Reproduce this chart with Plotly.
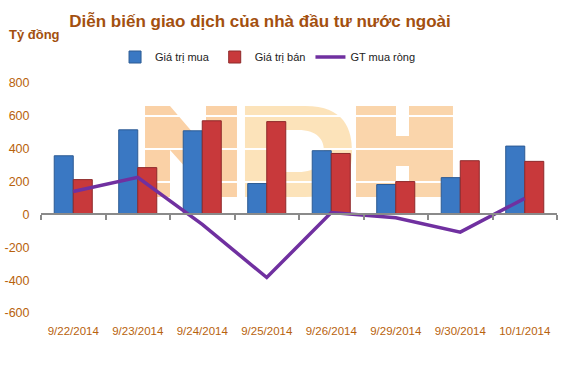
import plotly.graph_objects as go

categories = ["9/22/2014", "9/23/2014", "9/24/2014", "9/25/2014",
              "9/26/2014", "9/29/2014", "9/30/2014", "10/1/2014"]
gia_tri_mua = [357, 515, 509, 188, 388, 182, 224, 416]
gia_tri_ban = [212, 285, 570, 565, 371, 200, 327, 323]
gt_mua_rong = [140, 226, -61, -384, 12, -20, -108, 98]
y_tick_vals = [-600, -400, -200, 0, 200, 400, 600, 800]
y_tick_text = ["-600", "-400", "-200", "0", "200", "400", "600", "800"]

TITLE_COLOR = "#A3500F"
TICK_COLOR = "#B8620C"

W, H = 571, 370
# plot area in page pixels (reference)
L, R, T, B = 41, 557, 83, 313


def pp(x, y):
    return f"{(x - L) / (R - L):.4f},{(B - y) / (B - T):.4f}"


def path(cmds):
    out = []
    for c in cmds:
        if c == "Z":
            out.append("Z")
        else:
            op = c[0]
            pts = c[1:]
            out.append(op + " ".join(pp(*p) for p in pts))
    return " ".join(out)


n_path = path([("M", (145, 197)), ("L", (145, 106)), ("L", (170, 106)),
               ("L", (206, 148)), ("L", (206, 106)), ("L", (237, 106)),
               ("L", (237, 197)), ("L", (212, 197)), ("L", (170, 150)),
               ("L", (170, 197)), "Z"])
d_path = path([("M", (245, 106)), ("L", (305, 106)),
               ("C", (345, 106), (352, 130), (352, 151)),
               ("C", (352, 175), (345, 197), (305, 197)),
               ("L", (245, 197)), "Z",
               ("M", (272, 172)), ("L", (298, 172)),
               ("C", (318, 172), (324, 162), (324, 151)),
               ("C", (324, 140), (318, 130), (298, 130)),
               ("L", (272, 130)), "Z"])
h_path = path([("M", (356, 106)), ("L", (396, 106)), ("L", (396, 136)),
               ("L", (409, 136)), ("L", (409, 106)), ("L", (453, 106)),
               ("L", (453, 197)), ("L", (409, 197)), ("L", (409, 166)),
               ("L", (396, 166)), ("L", (396, 197)), ("L", (356, 197)), "Z"])

fig = go.Figure()
fig.add_trace(go.Bar(
    x=categories, y=gia_tri_mua, name="Giá trị mua",
    marker=dict(color="#3A78C3", line=dict(color="#2C5A93", width=1)),
))
fig.add_trace(go.Bar(
    x=categories, y=gia_tri_ban, name="Giá trị bán",
    marker=dict(color="#C8393B", line=dict(color="#8E2A2B", width=1)),
))
fig.add_trace(go.Scatter(
    x=categories, y=gt_mua_rong, name="GT mua ròng", mode="lines",
    line=dict(color="#7030A0", width=3.5), xaxis="x2", yaxis="y",
))

shapes = []
for p, col in [(n_path, "#F9CC9C"), (d_path, "#FCE0B2"), (h_path, "#F9D0A2")]:
    shapes.append(dict(type="path", path=p, xref="paper", yref="paper",
                       fillcolor=col, line=dict(width=0), layer="below",
                       opacity=0.9))

fig.update_layout(
    width=W, height=H,
    margin=dict(l=L, r=W - R, t=T, b=H - B, autoexpand=False),
    paper_bgcolor="white", plot_bgcolor="rgba(0,0,0,0)",
    barmode="group", bargap=0.41, bargroupgap=0,
    font=dict(family="Liberation Sans, Arial, sans-serif"),
    title=dict(text="<b>Diễn biến giao dịch của nhà đầu tư nước ngoài</b>",
               x=260 / W, xanchor="center",
               y=1 - 21 / H, yanchor="middle",
               yref="container",
               font=dict(size=17, color=TITLE_COLOR,
                         family="Liberation Sans, Arial, sans-serif")),
    legend=dict(orientation="h", x=0.44, xanchor="center",
                y=1 + (83 - 57) / (B - T),
                yanchor="middle", font=dict(size=11, color="#222222"),
                bgcolor="rgba(0,0,0,0)", traceorder="normal"),
    xaxis=dict(type="category", categoryorder="array", categoryarray=categories,
               range=[-0.5, 7.5], showgrid=False, showline=False,
               zeroline=False, ticks="outside", ticklen=7, tickcolor="rgba(0,0,0,0)",
               tickfont=dict(size=11.5, color=TICK_COLOR), automargin=False),
    xaxis2=dict(type="category", categoryorder="array", categoryarray=categories,
                range=[-0.5, 7.5], overlaying="x", anchor="free",
                position=600 / 1400, side="bottom", showgrid=False,
                showline=True, linecolor="#8A8A8A", linewidth=1.5,
                ticks="outside", ticklen=5, tickcolor="#8A8A8A", tickwidth=1.5,
                tickson="boundaries", showticklabels=False, zeroline=False,
                automargin=False),
    yaxis=dict(range=[-600, 800], tickvals=y_tick_vals, ticktext=y_tick_text,
               showgrid=True, gridcolor="white", gridwidth=1.5,
               zeroline=False, showline=False, ticks="outside", ticklen=8,
               tickcolor="rgba(0,0,0,0)", automargin=False,
               tickfont=dict(size=12.5, color=TICK_COLOR)),
    shapes=shapes,
    annotations=[dict(text="<b>Tỷ đồng</b>", xref="paper", yref="paper",
                      x=(7 - L) / (R - L), xanchor="left",
                      y=1 + (83 - 34) / (B - T), yanchor="middle",
                      showarrow=False,
                      font=dict(size=13, color=TITLE_COLOR))],
)

fig.write_html("out.html",
               config={"displayModeBar": False},
               post_script="document.body.style.margin='0';"
                           "document.body.style.overflow='hidden';")
